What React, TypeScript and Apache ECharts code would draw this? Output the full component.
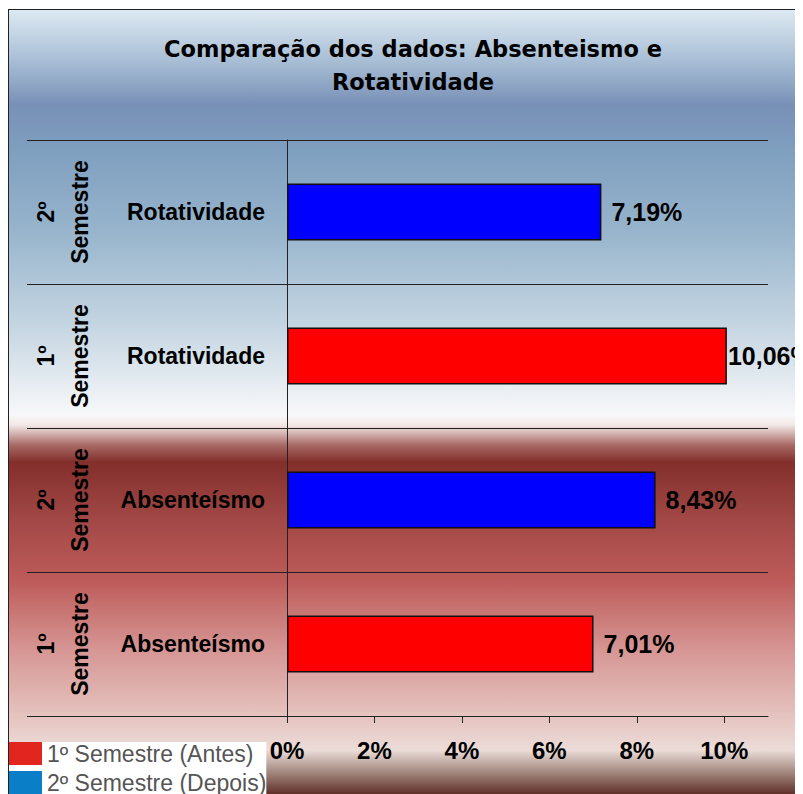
import React, { useEffect, useRef } from "react";
import * as echarts from "echarts";

const categories = [
  "Absenteísmo",
  "Absenteísmo",
  "Rotatividade",
  "Rotatividade",
];
const semesterLabels = ["1º\nSemestre", "2º\nSemestre", "1º\nSemestre", "2º\nSemestre"];
const seriesNames = ["1º Semestre (Antes)", "2º Semestre (Depois)"];
const firstSemester = [7.01, null, 10.06, null];
const secondSemester = [null, 8.43, null, 7.19];
const xTicks = [0, 2, 4, 6, 8, 10];
const titleText = "Comparação dos dados: Absenteismo e\nRotatividade";

const FONT = "'Liberation Sans', Arial, sans-serif";

export default function App() {
  const ref = useRef<HTMLDivElement>(null);
  useEffect(() => {
    if (!ref.current) return;
    const chart = echarts.init(ref.current, null, { renderer: "svg" });
    const fmt = (p: any) =>
      p.value == null ? "" : Number(p.value).toFixed(2).replace(".", ",") + "%";
    const mkData = (arr: (number | null)[]) =>
      arr.map((v) =>
        v != null && v > 10 ? { value: v, label: { distance: 1 } } : v
      );
    chart.setOption({
      animation: false,
      title: {
        text: titleText,
        left: 399,
        top: 17,
        textAlign: "center",
        textStyle: {
          fontFamily: "'DejaVu Sans', sans-serif",
          fontSize: 22.5,
          fontWeight: "bold",
          color: "#000",
          lineHeight: 33,
        },
      },
      legend: {
        orient: "vertical",
        left: 0,
        top: 732,
        padding: 0,
        itemGap: 6,
        itemWidth: 33,
        itemHeight: 23,
        icon: "rect",
        backgroundColor: "#ffffff",
        textStyle: { fontFamily: FONT, fontSize: 23, color: "#555" },
        data: [
          { name: seriesNames[0], itemStyle: { color: "#e2261f", borderWidth: 0 } },
          { name: seriesNames[1], itemStyle: { color: "#0a7fc8", borderWidth: 0 } },
        ],
      },
      grid: { left: 278, top: 130, right: 35, bottom: 78, outerBoundsMode: "none" },
      xAxis: {
        type: "value",
        min: 0,
        max: 11,
        interval: 2,
        splitLine: { show: false },
        axisLine: { show: true, lineStyle: { color: "#222", width: 1 } },
        axisTick: {
          show: true,
          length: 7,
          lineStyle: { color: "#222" },
          customValues: xTicks,
        },
        axisLabel: {
          customValues: xTicks,
          formatter: (v: number) => v + "%",
          margin: 22,
          fontFamily: FONT,
          fontSize: 24,
          fontWeight: "bold",
          color: "#000",
        },
      },
      yAxis: [
        {
          type: "category",
          data: categories,
          axisLine: { show: true, lineStyle: { color: "#222", width: 1 } },
          axisTick: {
            show: true,
            length: 260,
            lineStyle: { color: "#222", width: 1 },
          },
          splitLine: { show: true, lineStyle: { color: "#222", width: 1 } },
          axisLabel: {
            interval: 0,
            margin: 22,
            fontFamily: FONT,
            fontSize: 23,
            fontWeight: "bold",
            color: "#000",
          },
        },
        {
          type: "category",
          data: semesterLabels,
          position: "left",
          offset: 190,
          axisLine: { show: false },
          axisTick: { show: false },
          splitLine: { show: false },
          axisLabel: {
            interval: 0,
            rotate: 90,
            margin: 0,
            align: "center",
            verticalAlign: "bottom",
            lineHeight: 34,
            fontFamily: FONT,
            fontSize: 23,
            fontWeight: "bold",
            color: "#000",
          },
        },
      ],
      series: [
        {
          name: seriesNames[0],
          type: "bar",
          yAxisIndex: 0,
          barWidth: 57,
          barGap: "-100%",
          data: mkData(firstSemester),
          itemStyle: { color: "#ff0000", borderColor: "#111", borderWidth: 1.5 },
          label: {
            show: true,
            position: "right",
            distance: 10,
            formatter: fmt,
            fontFamily: FONT,
            fontSize: 25,
            fontWeight: "bold",
            color: "#000",
          },
        },
        {
          name: seriesNames[1],
          type: "bar",
          yAxisIndex: 0,
          barWidth: 57,
          barGap: "-100%",
          data: mkData(secondSemester),
          itemStyle: { color: "#0000ff", borderColor: "#111", borderWidth: 1.5 },
          label: {
            show: true,
            position: "right",
            distance: 10,
            formatter: fmt,
            fontFamily: FONT,
            fontSize: 25,
            fontWeight: "bold",
            color: "#000",
          },
        },
      ],
    });
    return () => chart.dispose();
  }, []);

  const bg =
    "linear-gradient(to bottom, #dde9f2 0px, #a9bfd6 50px, #7890b6 95px, #7f9fbf 140px, #97b4cc 220px, #c7d7e3 320px, #f8f8fa 405px, #f2e8e6 415px, #a86a66 435px, #832f2b 452px, #a24846 510px, #bd5b59 570px, #d69694 640px, #e6c6c2 710px, #ecdcd8 740px, #b09890 758px, #603028 784px)";

  return (
    <div style={{ paddingTop: 1 }}>
      <div
        style={{
          width: 795,
          height: 785,
          boxSizing: "border-box",
          borderTop: "1px solid #222",
          borderLeft: "1px solid #222",
          background: bg,
          overflow: "hidden",
        }}
      >
        <div ref={ref} style={{ width: 794, height: 784 }} />
      </div>
    </div>
  );
}
